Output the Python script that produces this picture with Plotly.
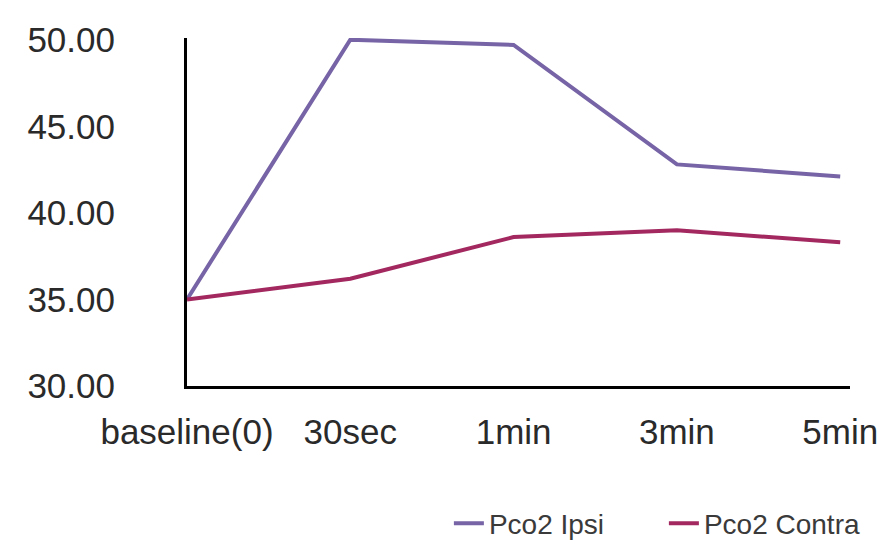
import plotly.graph_objects as go

categories = ["baseline(0)", "30sec", "1min", "3min", "5min"]
pco2_ipsi = [35.0, 50.0, 49.7, 42.8, 42.1]
pco2_contra = [35.0, 36.2, 38.6, 39.0, 38.3]
y_ticks = [30, 35, 40, 45, 50]
y_tick_labels = ["30.00", "35.00", "40.00", "45.00", "50.00"]

fig = go.Figure()
fig.add_trace(go.Scatter(x=categories, y=pco2_ipsi, mode="lines", name="Pco2 Ipsi",
                         line=dict(color="#7664a6", width=4)))
fig.add_trace(go.Scatter(x=categories, y=pco2_contra, mode="lines", name="Pco2 Contra",
                         line=dict(color="#a2285f", width=4)))

fig.update_layout(
    width=891, height=549,
    margin=dict(l=179, r=49, t=30, b=171, autoexpand=False),
    paper_bgcolor="white", plot_bgcolor="white",
    font=dict(family="Liberation Sans, Arial, sans-serif", color="#2a2a2a"),
    showlegend=True,
    legend=dict(orientation="h", x=0.395, y=-0.395, xanchor="left", yanchor="middle",
                font=dict(size=28, color="#3a3a3a"), itemwidth=30,
                entrywidth=170, entrywidthmode="pixels",
                bgcolor="rgba(0,0,0,0)", tracegroupgap=0),
    xaxis=dict(type="category", range=[0, 4.06], showgrid=False, zeroline=False,
               showline=True, linecolor="black", linewidth=3, ticks="",
               tickangle=0, tickfont=dict(size=35, color="#2a2a2a"),
               ticklabelstandoff=13, automargin=False),
    yaxis=dict(range=[30, 50.1], tickvals=y_ticks, ticktext=y_tick_labels,
               showgrid=False, zeroline=False, showline=True, linecolor="black",
               linewidth=3, ticks="", tickfont=dict(size=35, color="#2a2a2a"),
               ticklabelstandoff=62, automargin=False),
)

fig.write_html("out.html")
